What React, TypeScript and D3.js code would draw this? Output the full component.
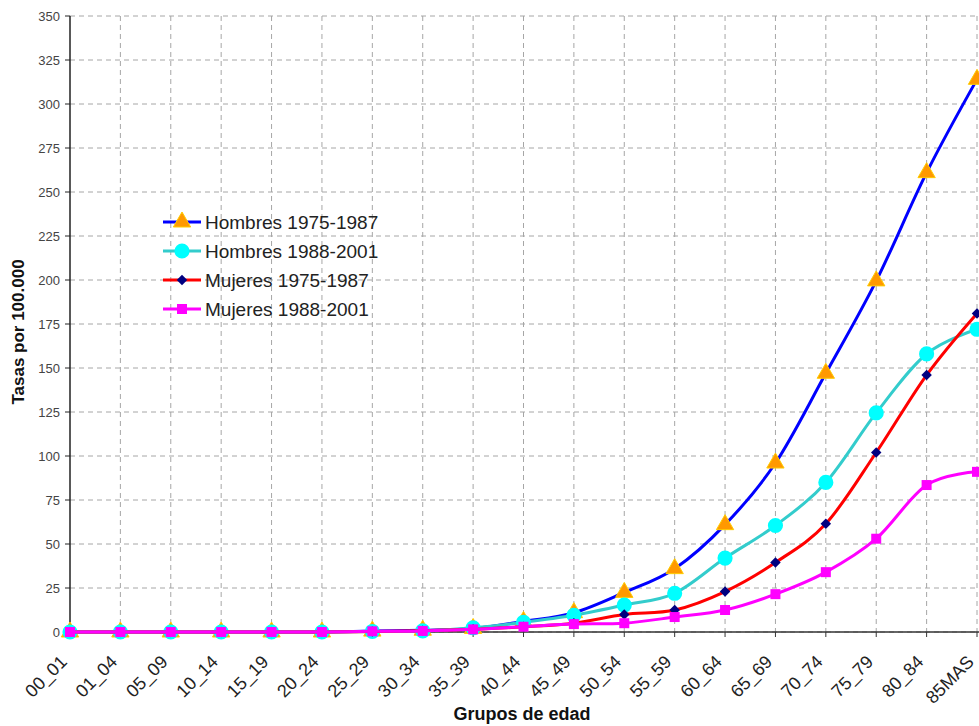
import React from "react";
import * as d3 from "d3";

const width = 979;
const height = 726;

const grupos = [
  "00_01", "01_04", "05_09", "10_14", "15_19", "20_24", "25_29", "30_34", "35_39", "40_44",
  "45_49", "50_54", "55_59", "60_64", "65_69", "70_74", "75_79", "80_84", "85MAS",
];

const hombres7587 = [0, 0, 0, 0, 0, 0, 0.5, 1, 2, 6, 11, 22.5, 36, 61, 96, 147, 199.5, 261, 314];
const hombres8801 = [0, 0, 0, 0, 0, 0, 0.3, 0.6, 2.4, 5.5, 9.5, 15.3, 22, 42, 60.5, 85, 124.5, 158, 172];
const mujeres7587 = [0, 0, 0, 0, 0, 0, 0.3, 0.7, 1.5, 3, 5, 10, 12.5, 23, 39.5, 61.5, 102, 146, 181];
const mujeres8801 = [0, 0, 0, 0, 0, 0, 0.4, 0.6, 1.5, 3, 4.5, 5, 8.5, 12.5, 21.5, 34, 53, 83.5, 91];

const yTicks = d3.range(0, 351, 25);

const series = [
  { name: "Hombres 1975-1987", values: hombres7587, line: "#0000FF", fill: "#FF9900", stroke: "#FFCC00", symbol: d3.symbolTriangle, size: 130, rotate: 0 },
  { name: "Hombres 1988-2001", values: hombres8801, line: "#33CCCC", fill: "#00FFFF", stroke: "none", symbol: d3.symbolCircle, size: 180, rotate: 0 },
  { name: "Mujeres 1975-1987", values: mujeres7587, line: "#FF0000", fill: "#000080", stroke: "none", symbol: d3.symbolSquare, size: 55, rotate: 45 },
  { name: "Mujeres 1988-2001", values: mujeres8801, line: "#FF00FF", fill: "#FF00FF", stroke: "none", symbol: d3.symbolSquare, size: 100, rotate: 0 },
];

const left = 70;
const right = 977;
const top = 16;
const bottom = 632;

export default function App() {
  const x = d3.scalePoint<string>().domain(grupos).range([left, right]).padding(0);
  const y = d3.scaleLinear().domain([0, 350]).range([bottom, top]);

  const line = d3
    .line<number>()
    .x((_, i) => x(grupos[i]) as number)
    .y((d) => y(d))
    .curve(d3.curveCatmullRom.alpha(0));

  const font = "Arial, 'Liberation Sans', sans-serif";

  return (
    <svg
      width={width}
      height={height}
      style={{ position: "absolute", left: 0, top: 0, background: "#fff" }}
      fontFamily={font}
    >
      {/* grid */}
      <g stroke="#a6a6a6" strokeWidth={1} strokeDasharray="5,4">
        {yTicks.map((t) => (
          <line key={"h" + t} x1={left} x2={width} y1={y(t)} y2={y(t)} />
        ))}
        {grupos.slice(1).map((g) => (
          <line key={"v" + g} x1={x(g)} x2={x(g)} y1={top} y2={bottom} />
        ))}
      </g>

      {/* y axis */}
      <line x1={left} x2={left} y1={top} y2={bottom} stroke="#222" strokeWidth={1.5} />
      {yTicks.map((t) => (
        <g key={"yt" + t} transform={`translate(${left},${y(t)})`}>
          <line x1={-5} x2={0} stroke="#222" />
          <text x={-10} dy="0.35em" textAnchor="end" fontSize={13} fill="#444">
            {t}
          </text>
        </g>
      ))}

      {/* x axis */}
      <line x1={left} x2={width} y1={bottom} y2={bottom} stroke="#333" strokeWidth={1.5} />
      {grupos.map((g) => (
        <g key={"xt" + g}>
          <line x1={x(g)} x2={x(g)} y1={bottom} y2={bottom + 5} stroke="#333" />
          <text
            transform={`translate(${(x(g) as number) - 2},${bottom + 31}) rotate(-45)`}
            textAnchor="end"
            fontSize={18}
            fill="#222"
          >
            {g}
          </text>
        </g>
      ))}

      {/* series */}
      {series.map((s) => (
        <g key={s.name}>
          <path d={line(s.values) as string} fill="none" stroke={s.line} strokeWidth={3} />
          {s.values.map((v, i) => (
            <path
              key={i}
              transform={`translate(${x(grupos[i])},${y(v)}) rotate(${s.rotate})`}
              d={d3.symbol().type(s.symbol).size(s.size)() as string}
              fill={s.fill}
              stroke={s.stroke}
              strokeWidth={1}
            />
          ))}
        </g>
      ))}

      {/* legend */}
      {series.map((s, i) => (
        <g key={"lg" + s.name} transform={`translate(163,${222 + i * 29})`}>
          <line x1={0} x2={38} stroke={s.line} strokeWidth={3} />
          <path
            transform={`translate(19,0) rotate(${s.rotate})`}
            d={d3.symbol().type(s.symbol).size(s.size)() as string}
            fill={s.fill}
            stroke={s.stroke}
          />
          <text x={42} dy="0.36em" fontSize={19} fill="#222">
            {s.name}
          </text>
        </g>
      ))}

      {/* titles */}
      <text
        transform={`translate(24,${(top + bottom) / 2 + 8}) rotate(-90)`}
        textAnchor="middle"
        fontSize={17}
        fontWeight="bold"
        fill="#111"
      >
        Tasas por 100.000
      </text>
      <text x={522} y={720} textAnchor="middle" fontSize={18} fontWeight="bold" fill="#111">
        Grupos de edad
      </text>
    </svg>
  );
}
